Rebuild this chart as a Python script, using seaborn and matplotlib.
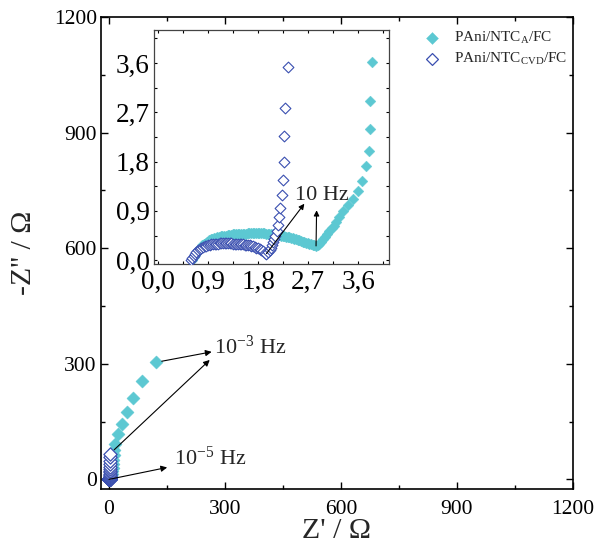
import matplotlib
matplotlib.use("Agg")
import matplotlib.pyplot as plt
import pandas as pd
import seaborn as sns
from matplotlib.ticker import FuncFormatter, MultipleLocator

# Nyquist data, Z' and -Z'' in Ohm (high frequency first)
fca_re = [0.62, 0.64, 0.66, 0.68, 0.71, 0.74, 0.77, 0.80, 0.83, 0.86,
          0.89, 0.92, 0.95, 0.98, 1.01, 1.04, 1.07, 1.10, 1.13, 1.16,
          1.19, 1.22, 1.25, 1.28, 1.31, 1.34, 1.37, 1.40, 1.43, 1.46,
          1.49, 1.52, 1.55, 1.58, 1.61, 1.64, 1.67, 1.70, 1.73, 1.76,
          1.79, 1.82, 1.85, 1.88, 1.91, 1.94, 1.97, 2.00, 2.03, 2.06,
          2.09, 2.12, 2.15, 2.18, 2.21, 2.24, 2.27, 2.30, 2.33, 2.36,
          2.39, 2.42, 2.45, 2.48, 2.51, 2.54, 2.57, 2.60, 2.63, 2.66,
          2.69, 2.72, 2.75, 2.78, 2.81, 2.84,
          2.87, 2.90, 2.93, 2.96, 3.00, 3.04, 3.08, 3.12, 3.16, 3.20,
          3.26, 3.33, 3.42, 3.51, 3.60, 3.67, 3.74, 3.79, 3.80, 3.80, 3.84,
          5.0, 6.0, 7.5, 9.0, 10.0, 11.0, 12.0, 12.5, 13.0, 16.0, 25.0, 34.0,
          48.0, 63.0, 87.0, 123.0]
fca_im = [0.00, 0.05, 0.09, 0.13, 0.17, 0.21, 0.24, 0.27, 0.30, 0.32,
          0.34, 0.36, 0.38, 0.39, 0.40, 0.41, 0.42, 0.43, 0.44, 0.44,
          0.45, 0.45, 0.46, 0.46, 0.46, 0.47, 0.47, 0.47, 0.47, 0.48,
          0.48, 0.48, 0.48, 0.48, 0.49, 0.49, 0.49, 0.49, 0.49, 0.49,
          0.49, 0.49, 0.49, 0.49, 0.49, 0.48, 0.48, 0.48, 0.48, 0.47,
          0.47, 0.47, 0.46, 0.46, 0.45, 0.45, 0.44, 0.43, 0.43, 0.42,
          0.41, 0.40, 0.39, 0.38, 0.37, 0.36, 0.35, 0.34, 0.33, 0.32,
          0.31, 0.30, 0.29, 0.28, 0.27, 0.26,
          0.27, 0.30, 0.34, 0.38, 0.43, 0.48, 0.53, 0.58, 0.63, 0.69,
          0.78, 0.89, 1.00, 1.12, 1.26, 1.45, 1.71, 2.00, 2.39, 2.90, 3.61,
          6.0, 10.0, 15.0, 22.0, 30.0, 40.0, 50.0, 62.0, 75.0, 93.0, 117.0, 143.0,
          175.0, 212.0, 255.0, 304.0]

cvd_re = [0.60, 0.62, 0.64, 0.66, 0.69, 0.72, 0.75, 0.78, 0.81, 0.84,
          0.87, 0.90, 0.93, 0.96, 0.99, 1.02, 1.05, 1.08, 1.11, 1.14,
          1.17, 1.20, 1.23, 1.26, 1.29, 1.32, 1.35, 1.38, 1.41, 1.44,
          1.47, 1.50, 1.53, 1.56, 1.59, 1.62, 1.65, 1.68, 1.71, 1.74,
          1.77, 1.80, 1.83, 1.86, 1.89, 1.92, 1.95,
          1.98, 2.01, 2.03, 2.05, 2.07, 2.09, 2.11, 2.13, 2.15, 2.17,
          2.19, 2.22, 2.25, 2.27, 2.26, 2.28, 2.33,
          2.5, 2.6, 2.7, 2.8, 2.9, 3.0, 3.1, 3.2, 3.3, 3.4, 3.5, 3.6, 3.7]
cvd_im = [0.00, 0.04, 0.08, 0.11, 0.15, 0.18, 0.20, 0.22, 0.24, 0.25,
          0.26, 0.27, 0.28, 0.29, 0.29, 0.30, 0.30, 0.30, 0.31, 0.31,
          0.31, 0.31, 0.31, 0.31, 0.31, 0.31, 0.30, 0.30, 0.30, 0.30,
          0.29, 0.29, 0.29, 0.28, 0.28, 0.27, 0.27, 0.26, 0.25, 0.24,
          0.23, 0.22, 0.20, 0.18, 0.16, 0.14, 0.12,
          0.15, 0.19, 0.23, 0.28, 0.33, 0.38, 0.45, 0.53, 0.64, 0.79,
          0.96, 1.19, 1.47, 1.79, 2.26, 2.77, 3.53,
          4.8, 6.5, 8.5, 11.0, 14.0, 18.0, 22.0, 27.0, 33.0, 40.0, 48.0, 57.0, 67.0]

label_a = r"PAni/NTC$_{\mathrm{A}}$/FC"
label_cvd = r"PAni/NTC$_{\mathrm{CVD}}$/FC"

cyan = "#5cc8d2"
blue = "#3a4fb0"

df_a = pd.DataFrame({"re": fca_re, "im": fca_im})
df_cvd = pd.DataFrame({"re": cvd_re, "im": cvd_im})

# 10 Hz points: minima of the two arcs
i10_a = fca_re.index(2.84)
i10_cvd = cvd_re.index(1.95)

sns.set_theme(style="white")
plt.rcParams["font.family"] = ["Liberation Serif", "DejaVu Serif"]
plt.rcParams["mathtext.fontset"] = "custom"
plt.rcParams["mathtext.rm"] = "Liberation Serif"
plt.rcParams["mathtext.it"] = "Liberation Serif:italic"

fig = plt.figure(figsize=(5.99, 5.52), dpi=100)
ax = fig.add_axes([0.1686, 0.1141, 0.788, 0.855])

sns.scatterplot(data=df_a, x="re", y="im", marker="D", s=45, color=cyan,
                edgecolor=cyan, linewidth=0.3, label=label_a, ax=ax, zorder=2)
sns.scatterplot(data=df_cvd, x="re", y="im", marker="D", s=45, facecolor="white",
                edgecolor=blue, linewidth=0.9, label=label_cvd, ax=ax, zorder=3)

ax.set_xlim(-20, 1200)
ax.set_ylim(-25, 1200)
ax.xaxis.set_major_locator(MultipleLocator(300))
ax.xaxis.set_minor_locator(MultipleLocator(150))
ax.yaxis.set_major_locator(MultipleLocator(300))
ax.yaxis.set_minor_locator(MultipleLocator(150))
ax.tick_params(which="both", direction="in", bottom=True, left=True, top=True,
               right=True, colors="black", width=1.0)
ax.tick_params(which="major", length=5)
ax.tick_params(which="minor", length=3)
ax.tick_params(axis="x", labelsize=15.5, pad=8)
ax.tick_params(axis="y", labelsize=15.5, pad=3)
ax.set_xlabel("Z' / Ω", fontsize=21.5, labelpad=-1)
ax.set_ylabel("-Z'' / Ω", fontsize=21.5, labelpad=12)
for sp in ax.spines.values():
    sp.set_color("black")
    sp.set_linewidth(1.2)

ax.legend(loc="upper left", bbox_to_anchor=(0.655, 0.985), frameon=False,
          fontsize=11, handletextpad=0.5, borderaxespad=0, labelspacing=0.3,
          markerscale=0.9)

arrow = dict(arrowstyle="-|>", color="black", lw=0.8, mutation_scale=9,
             shrinkA=4, shrinkB=0)
ax.annotate("", xy=(266, 331), xytext=(fca_re[-1], fca_im[-1]), arrowprops=arrow)
ax.annotate("", xy=(261, 310), xytext=(cvd_re[-1], cvd_im[-1]), arrowprops=arrow)
ax.annotate("", xy=(151, 31), xytext=(cvd_re[0], cvd_im[0]),
            arrowprops=dict(arrow, shrinkA=0))
ax.text(273, 325, r"10$^{\mathrm{-3}}$ Hz", fontsize=16, va="baseline")
ax.text(168, 37, r"10$^{\mathrm{-5}}$ Hz", fontsize=16, va="baseline")

# inset: high frequency region
ins = fig.add_axes([0.2571, 0.5217, 0.3923, 0.4239])
sns.scatterplot(data=df_a, x="re", y="im", marker="D", s=30, color=cyan,
                edgecolor=cyan, linewidth=0.3, ax=ins, zorder=2)
sns.scatterplot(data=df_cvd, x="re", y="im", marker="D", s=30, facecolor="white",
                edgecolor=blue, linewidth=0.8, ax=ins, zorder=3)
ins.set_xlim(-0.07, 4.15)
ins.set_ylim(-0.07, 4.2)
ins.set_xlabel("")
ins.set_ylabel("")
comma = FuncFormatter(lambda v, p: f"{v:.1f}".replace(".", ","))
for axis in (ins.xaxis, ins.yaxis):
    axis.set_major_locator(MultipleLocator(0.9))
    axis.set_minor_locator(MultipleLocator(0.45))
    axis.set_major_formatter(comma)
ins.tick_params(which="both", direction="in", bottom=True, left=True, top=True,
                right=True, length=2, width=0.8, colors="black", labelsize=19.5)
ins.tick_params(axis="x", pad=4)
ins.tick_params(axis="y", pad=3)
for sp in ins.spines.values():
    sp.set_color("#444444")
    sp.set_linewidth(0.9)

arrow_in = dict(arrowstyle="-|>", color="black", lw=0.8, mutation_scale=8,
                shrinkA=0, shrinkB=0)
ins.annotate("", xy=(2.63, 1.03), xytext=(cvd_re[i10_cvd], cvd_im[i10_cvd]),
             arrowprops=arrow_in)
ins.annotate("", xy=(2.85, 0.91), xytext=(fca_re[i10_a], fca_im[i10_a]),
             arrowprops=arrow_in)
ins.text(2.46, 1.09, "10 Hz", fontsize=16, va="baseline")

fig.savefig("out.png", dpi=100)
